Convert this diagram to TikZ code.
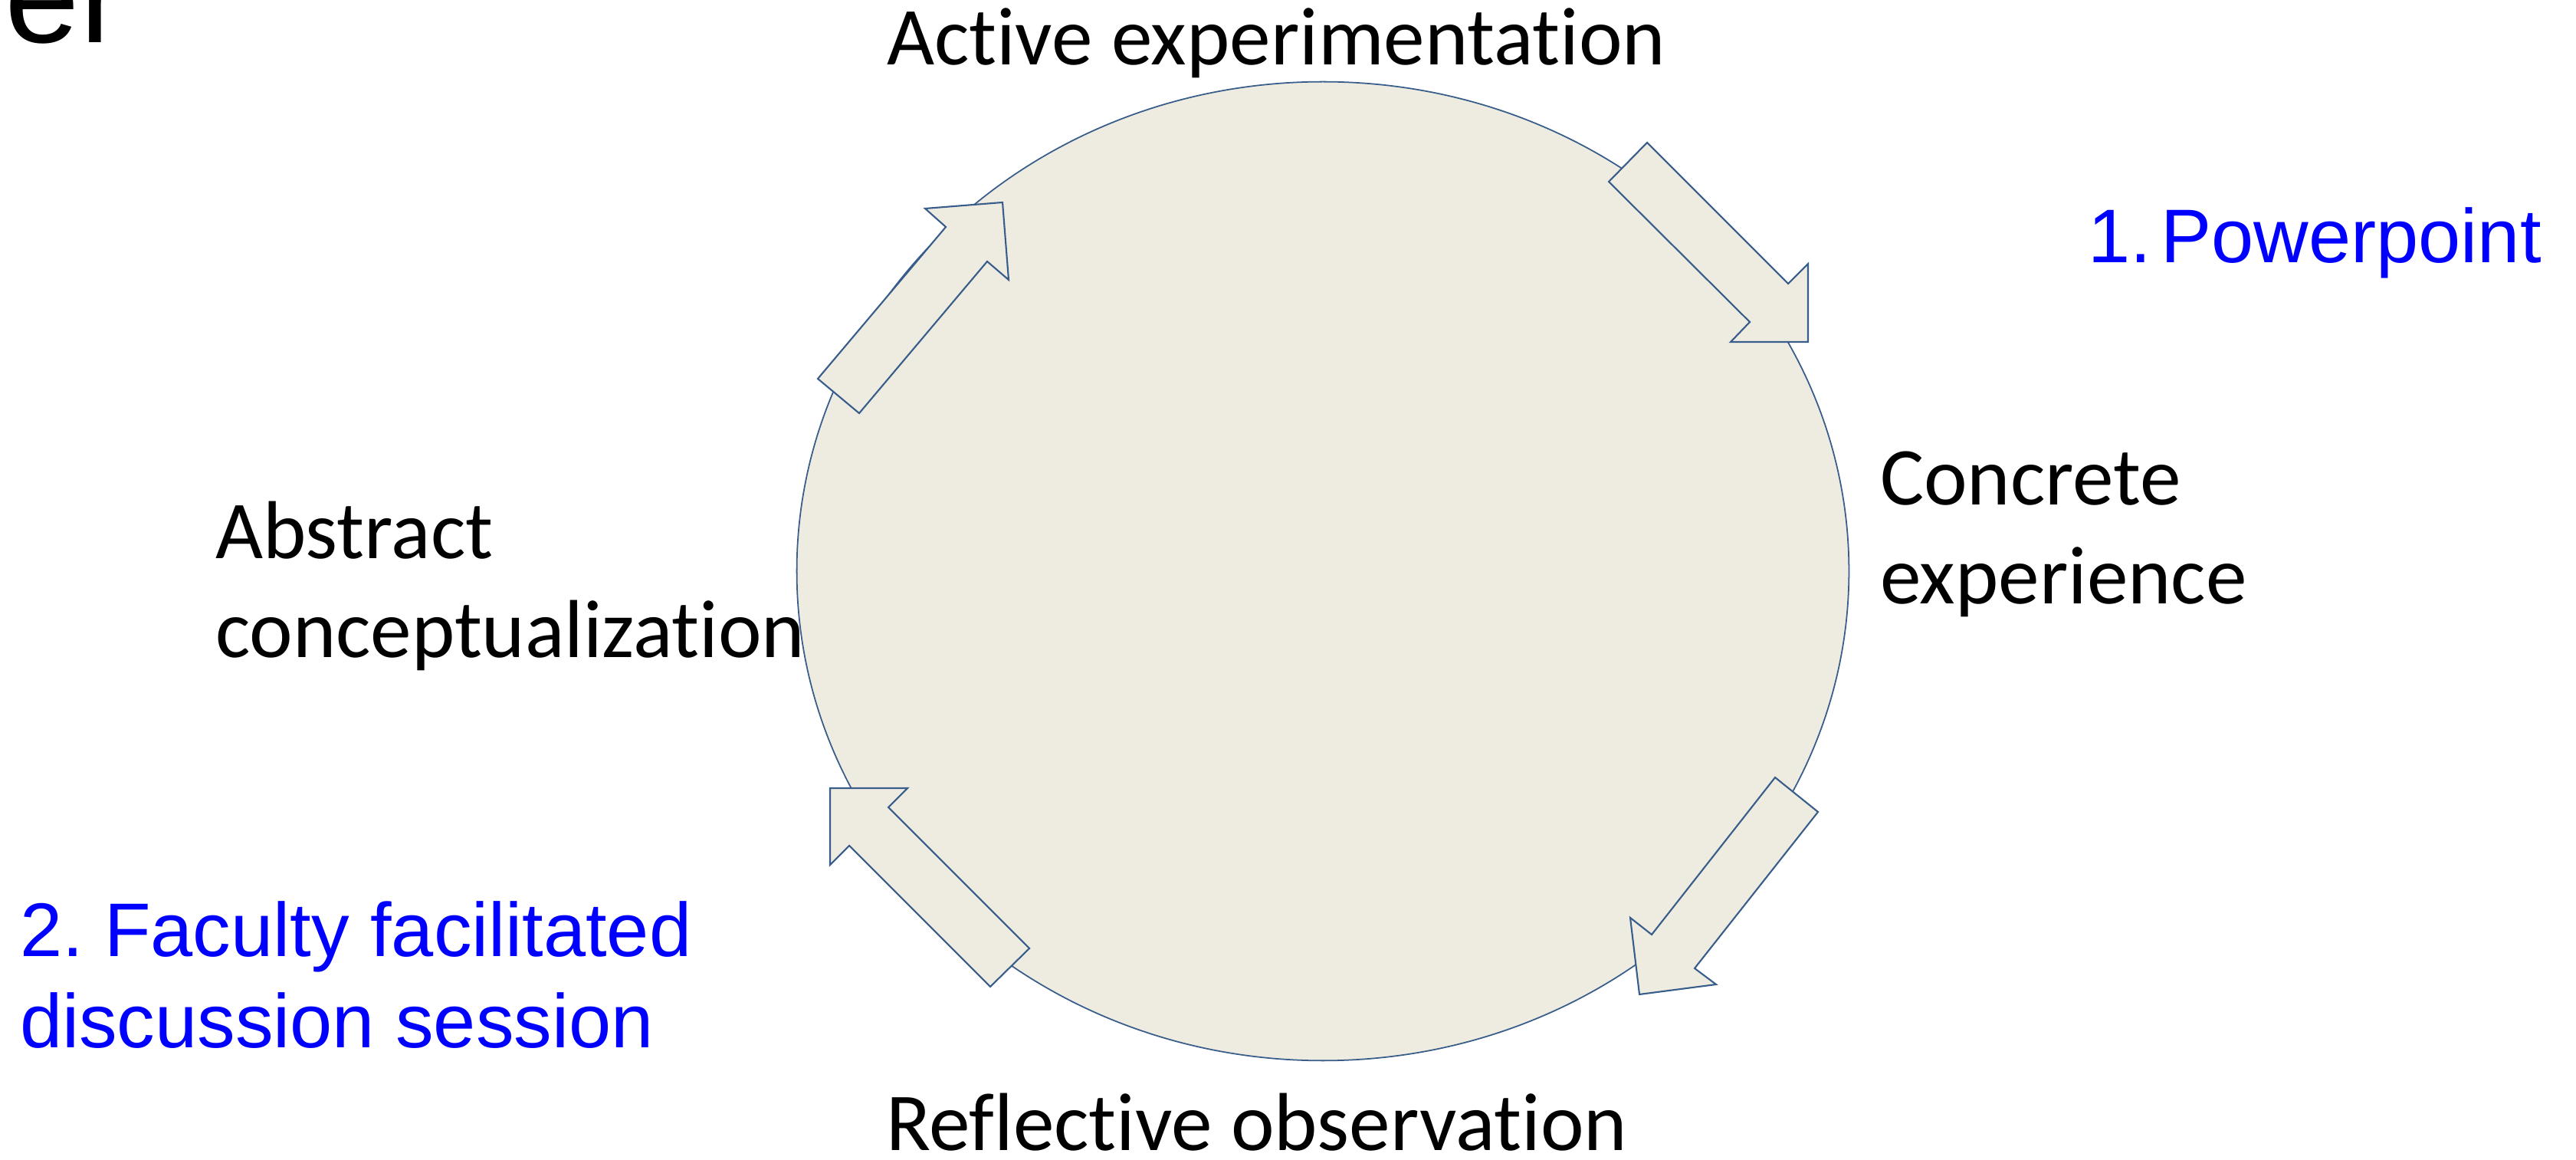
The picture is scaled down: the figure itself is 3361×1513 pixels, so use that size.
\documentclass[tikz,border=0pt]{standalone}
\usepackage{fontspec}
\newfontfamily\calibrifont[Ligatures=NoCommon]{Carlito}
\newfontfamily\arialfont{Liberation Sans}
\definecolor{shapeline}{RGB}{56,93,138}
\definecolor{shapefill}{RGB}{238,236,225}
\definecolor{noteblue}{RGB}{0,0,255}
\frenchspacing
\begin{document}
\begin{tikzpicture}[x=0.01cm,y=-0.01cm,
  stage/.style={inner sep=0pt,outer sep=0pt,anchor=base west,align=left,
    font=\calibrifont\fontsize{30.5pt}{36.7pt}\selectfont},
  note/.style={inner sep=0pt,outer sep=0pt,anchor=base west,align=left,text=noteblue,
    font=\arialfont\fontsize{28.2pt}{33.6pt}\selectfont},
  blockarrow/.style={draw=shapeline,fill=shapefill,line width=0.6pt,line join=miter}]
\useasboundingbox (0,0) rectangle (3361,1513);
\clip (0,0) rectangle (3361,1513);
% cut-off title fragment
\node[inner sep=0pt,anchor=base west,font=\arialfont\fontsize{49.8pt}{58pt}\selectfont] (title) at (6,56) {er};
% cycle
\draw[draw=shapeline,fill=shapefill,line width=0.5pt] (1726,745) ellipse [x radius=6.86cm, y radius=6.38cm];
% arrows
\draw[blockarrow] (2149,186) -- (2333,370) -- (2359,344) -- (2359,446) -- (2258,446) -- (2283,420) -- (2099,237) -- cycle;
\draw[blockarrow] (2316,1014) -- (2372,1059) -- (2211,1263) -- (2239,1284) -- (2139,1297) -- (2127,1197) -- (2155,1219) -- cycle;
\draw[blockarrow] (1292,1287) -- (1343,1237) -- (1159,1053) -- (1184,1028) -- (1083,1028) -- (1083,1128) -- (1108,1103) -- cycle;
\draw[blockarrow] (1121,539) -- (1067,494) -- (1234,296) -- (1207,272) -- (1308,264) -- (1316,365) -- (1288,341) -- cycle;
% labels (base anchor of a multi-line node = baseline of its last line)
\node[stage] (ae) at (1157,85) {Active experimentation};
\node[stage] (ce) at (2453,788) {Concrete\\experience};
\node[stage] (ac) at (281,858) {Abstract\\conceptualization};
\node[stage] (ro) at (1156,1500) {Reflective observation};
\node[note] (n1) at (2724,343) {1.\hspace{0.13em}Powerpoint};
\node[note] (n2) at (26,1366) {2. Faculty facilitated\\discussion session};
\end{tikzpicture}
\end{document}
